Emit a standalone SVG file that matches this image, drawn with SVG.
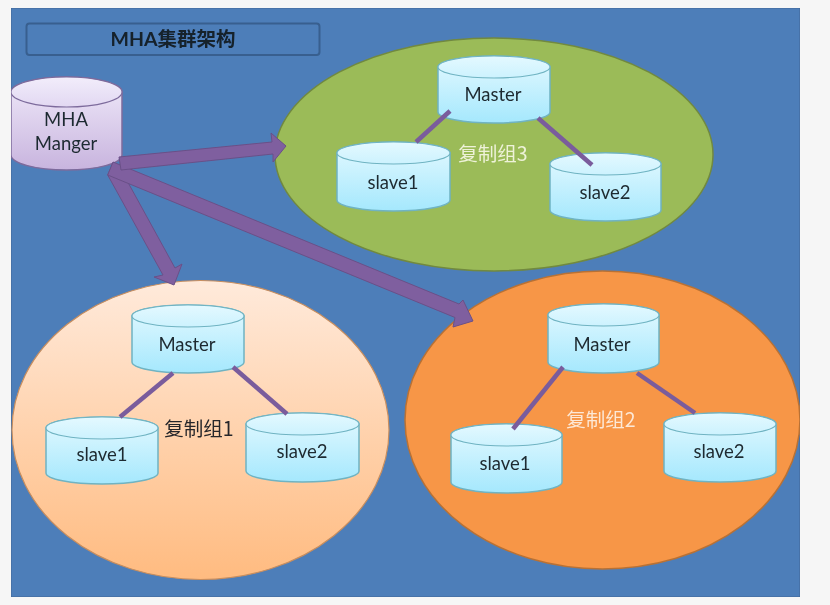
<svg xmlns="http://www.w3.org/2000/svg" width="830" height="605" viewBox="0 0 830 605">
<style>
.t{font-family:"Lato","Liberation Sans","Noto Sans CJK SC",sans-serif;font-size:18.500px;fill:#1f2a30;text-anchor:middle}
.g{font-family:"Noto Sans CJK SC","Lato",sans-serif;font-size:19.500px;text-anchor:middle}
.body{fill:url(#cb);stroke:#6fb3c2;stroke-width:1.5}
.top{fill:url(#ct);stroke:#6fb3c2;stroke-width:1.2}
.arrow{fill:#7f5f9f;stroke:#6a5088;stroke-width:1}
.link{stroke:#7a5c9c;stroke-width:4.5;fill:none}
</style>
<defs>
<filter id="soft" x="0" y="0" width="100%" height="100%"><feGaussianBlur stdDeviation="0.6"/></filter>
<linearGradient id="cb" x1="0" y1="0" x2="0" y2="1"><stop offset="0" stop-color="#e4f9ff"/><stop offset="1" stop-color="#a5e8fd"/></linearGradient>
<linearGradient id="ct" x1="0" y1="0" x2="0" y2="1"><stop offset="0" stop-color="#e4f9ff"/><stop offset="1" stop-color="#ccf2fe"/></linearGradient>
<linearGradient id="mb" x1="0" y1="0" x2="0" y2="1"><stop offset="0" stop-color="#f0eafa"/><stop offset="1" stop-color="#c8b4de"/></linearGradient>
<linearGradient id="mt" x1="0" y1="0" x2="0" y2="1"><stop offset="0" stop-color="#f2edfb"/><stop offset="1" stop-color="#e2d8f2"/></linearGradient>
<linearGradient id="pe" x1="0" y1="0" x2="0" y2="1"><stop offset="0" stop-color="#ffeadb"/><stop offset="1" stop-color="#ffbb80"/></linearGradient>
</defs>
<rect width="830" height="605" fill="#f6f6f6"/>
<g filter="url(#soft)">
<rect x="11" y="8" width="789" height="589" fill="#4e7eb9" stroke="#3f6797" stroke-width="1"/>
<g id="title">
<rect x="26.500" y="23.500" width="293" height="31.500" rx="3" fill="#4e7eb9" stroke="#375f8f" stroke-width="2"/>
<text x="173" y="45.500" font-family="Lato,'Noto Sans CJK SC',sans-serif" font-weight="700" font-size="19.500" fill="#14202c" text-anchor="middle">MHA集群架构</text>
</g>
<g id="group3">
<ellipse cx="494" cy="154.500" rx="219" ry="116.500" fill="#9bbb59" stroke="#71893f" stroke-width="1.5"/>
<text class="g" x="493" y="161" fill="#eef2d8">复制组3</text>
</g>
<g id="group1">
<ellipse cx="200.500" cy="430" rx="188.500" ry="149.500" fill="url(#pe)" stroke="#c88e5e" stroke-width="1.2"/>
<text class="g" x="199" y="436" fill="#26262a">复制组1</text>
</g>
<g id="group2">
<ellipse cx="602.500" cy="420" rx="197.500" ry="149" fill="#f79646" stroke="#b87135" stroke-width="1.5"/>
<text class="g" x="601" y="427" fill="#fde8d6">复制组2</text>
</g>
<g id="manager">
<path d="M11 92A55.500 15 0 0 1 122 92V155A55.500 15 0 0 1 11 155Z" fill="url(#mb)" stroke="#7d6b9c" stroke-width="1.5"/>
<ellipse cx="66.500" cy="92" rx="55.500" ry="15" fill="url(#mt)" stroke="#7d6b9c" stroke-width="1.2"/>
<text class="t" x="66" y="126">MHA</text>
<text class="t" x="66" y="150">Manger</text>
</g>
<g id="g3-master"><path class="body" d="M438 67A56 11 0 0 1 550 67V112A56 11 0 0 1 438 112Z"/><ellipse class="top" cx="494" cy="67" rx="56" ry="11"/><text class="t" x="493" y="101">Master</text></g>
<g id="g3-slave1"><path class="body" d="M337 153A56.500 11 0 0 1 450 153V200A56.500 11 0 0 1 337 200Z"/><ellipse class="top" cx="393.500" cy="153" rx="56.500" ry="11"/><text class="t" x="393" y="189">slave1</text></g>
<g id="g3-slave2"><path class="body" d="M550 164A55.500 11 0 0 1 661 164V210A55.500 11 0 0 1 550 210Z"/><ellipse class="top" cx="605.500" cy="164" rx="55.500" ry="11"/><text class="t" x="605" y="199">slave2</text></g>
<g id="g1-master"><path class="body" d="M132 316A56 11 0 0 1 244 316V362A56 11 0 0 1 132 362Z"/><ellipse class="top" cx="188" cy="316" rx="56" ry="11"/><text class="t" x="187" y="351">Master</text></g>
<g id="g1-slave1"><path class="body" d="M46 428A56 11 0 0 1 158 428V473A56 11 0 0 1 46 473Z"/><ellipse class="top" cx="102" cy="428" rx="56" ry="11"/><text class="t" x="102" y="461">slave1</text></g>
<g id="g1-slave2"><path class="body" d="M246 424A56.500 11 0 0 1 359 424V471A56.500 11 0 0 1 246 471Z"/><ellipse class="top" cx="302.500" cy="424" rx="56.500" ry="11"/><text class="t" x="302" y="458">slave2</text></g>
<g id="g2-master"><path class="body" d="M548 315A55.500 11 0 0 1 659 315V362A55.500 11 0 0 1 548 362Z"/><ellipse class="top" cx="603.500" cy="315" rx="55.500" ry="11"/><text class="t" x="602" y="351">Master</text></g>
<g id="g2-slave1"><path class="body" d="M451 435A55.500 11 0 0 1 562 435V482A55.500 11 0 0 1 451 482Z"/><ellipse class="top" cx="506.500" cy="435" rx="55.500" ry="11"/><text class="t" x="505" y="470">slave1</text></g>
<g id="g2-slave2"><path class="body" d="M664 424A56 11 0 0 1 776 424V471A56 11 0 0 1 664 471Z"/><ellipse class="top" cx="720" cy="424" rx="56" ry="11"/><text class="t" x="719" y="458">slave2</text></g>
<g id="connectors">
<polygon class="arrow" points="113,163 107.700,175 163,275 154,277 174,285 182,264 175,268 125,177"/>
<polygon class="arrow" points="113,162 459,304 463,300 473,321 453,327 455,317.500 107.700,175"/>
<polygon class="arrow" points="119,157 272,142 271,133 286,146 273,162 273,154 121,170"/>
<line class="link" x1="450" y1="111" x2="416" y2="142"/>
<line class="link" x1="538" y1="118" x2="592" y2="165"/>
<line class="link" x1="173" y1="373" x2="120" y2="417"/>
<line class="link" x1="233" y1="367" x2="287" y2="414"/>
<line class="link" x1="563" y1="367" x2="513" y2="429"/>
<line class="link" x1="637" y1="373" x2="695" y2="413"/>
</g>
</g>
</svg>
